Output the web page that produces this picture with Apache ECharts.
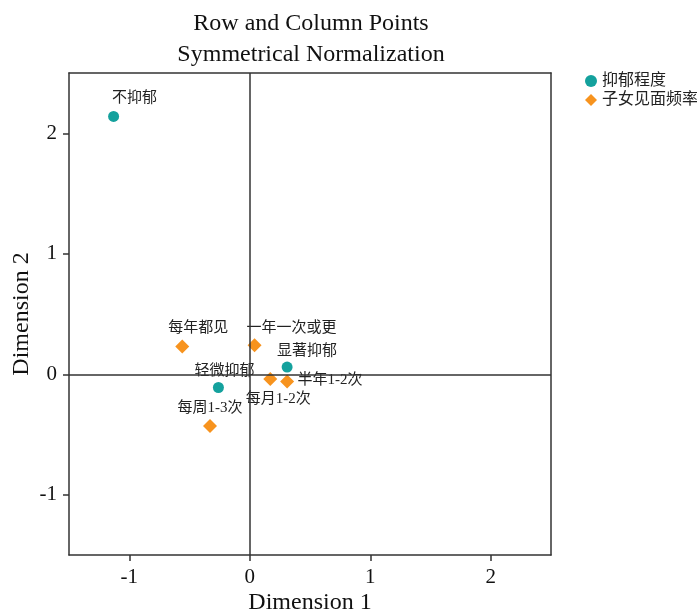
<!DOCTYPE html>
<html>
<head>
<meta charset="utf-8">
<script src="https://cdn.jsdelivr.net/npm/echarts@6/dist/echarts.min.js"></script>
<style>
html,body{margin:0;padding:0;background:#fff;}
#main{width:697px;height:613px;}
</style>
</head>
<body>
<div id="main"></div>
<script>
// 抑郁程度 (row points)
var rowNames = ['不抑郁', '轻微抑郁', '显著抑郁'];
var rowX = [-1.13, -0.26, 0.31];
var rowY = [2.14, -0.11, 0.06];
// 子女见面频率 (column points)
var colNames = ['每年都见', '一年一次或更', '每月1-2次', '半年1-2次', '每周1-3次'];
var colX = [-0.56, 0.04, 0.17, 0.31, -0.33];
var colY = [0.23, 0.24, -0.04, -0.06, -0.43];
var tickValues = [-1, 0, 1, 2];

// 标签偏移，避免文字重叠
var labelOffset = {
    '不抑郁': [21, 0],
    '轻微抑郁': [6, 2],
    '显著抑郁': [20, 2],
    '每年都见': [16, -1],
    '一年一次或更': [37, 0],
    '每月1-2次': [8, 37],
    '半年1-2次': [43, 16],
    '每周1-3次': [0, -1]
};

var serif = "'Liberation Serif', 'Times New Roman', serif";
var cjk = "'Liberation Serif', 'Noto Sans CJK SC', serif";

function makeData(names, xs, ys) {
    return names.map(function (n, i) {
        return {
            name: n,
            value: [xs[i], ys[i]],
            label: { offset: labelOffset[n] }
        };
    });
}

var myChart = echarts.init(document.getElementById('main'));
var axisCommon = {
    type: 'value',
    min: -1.5,
    max: 2.5,
    splitLine: { show: false },
    axisLine: { show: true, onZero: false, lineStyle: { color: '#333', width: 1.5 } },
    axisTick: { show: true, length: 6, customValues: tickValues, lineStyle: { color: '#333', width: 1.5 } },
    axisLabel: { customValues: tickValues, color: '#111', fontSize: 21, fontFamily: serif, margin: 12 },
    nameLocation: 'middle',
    nameMoveOverlap: false,
    nameTextStyle: { color: '#111', fontSize: 24, fontFamily: serif }
};
var option = {
    backgroundColor: '#fff',
    title: {
        text: 'Row and Column Points\nSymmetrical Normalization',
        left: 306,
        top: 3,
        textAlign: 'center',
        textStyle: { fontSize: 24, fontWeight: 'normal', color: '#111', fontFamily: serif, lineHeight: 31 }
    },
    legend: {
        orient: 'vertical',
        left: 580,
        top: 68,
        itemWidth: 12,
        itemHeight: 12,
        itemGap: 3,
        textStyle: { fontSize: 16, color: '#222', fontFamily: cjk },
        data: [{ name: '抑郁程度', icon: 'circle' }, { name: '子女见面频率', icon: 'diamond' }]
    },
    grid: { left: 69, right: 146, top: 73, bottom: 58, containLabel: false, outerBoundsMode: 'none' },
    xAxis: [
        Object.assign({}, axisCommon, { name: 'Dimension 1', nameGap: 36, position: 'bottom' }),
        { type: 'value', min: -1.5, max: 2.5, position: 'top', axisLine: { show: true, onZero: false, lineStyle: { color: '#333', width: 1.5 } },
          axisTick: { show: false }, axisLabel: { show: false }, splitLine: { show: false } }
    ],
    yAxis: [
        Object.assign({}, axisCommon, { name: 'Dimension 2', nameGap: 35, position: 'left' }),
        { type: 'value', min: -1.5, max: 2.5, position: 'right', axisLine: { show: true, onZero: false, lineStyle: { color: '#333', width: 1.5 } },
          axisTick: { show: false }, axisLabel: { show: false }, splitLine: { show: false } }
    ],
    series: [
        {
            name: '抑郁程度',
            type: 'scatter',
            symbol: 'circle',
            symbolSize: 11,
            itemStyle: { color: '#14a19d', opacity: 1 },
            label: { show: true, position: 'top', distance: 5, formatter: '{b}', fontSize: 15, color: '#222', fontFamily: cjk },
            data: makeData(rowNames, rowX, rowY),
            markLine: {
                silent: true,
                symbol: 'none',
                label: { show: false },
                lineStyle: { color: '#333', width: 1.5, type: 'solid' },
                data: [{ xAxis: 0 }, { yAxis: 0 }]
            },
            z: 3
        },
        {
            name: '子女见面频率',
            type: 'scatter',
            symbol: 'diamond',
            symbolSize: 14,
            itemStyle: { color: '#f7931e', opacity: 1 },
            label: { show: true, position: 'top', distance: 3, formatter: '{b}', fontSize: 15, color: '#222', fontFamily: cjk },
            data: makeData(colNames, colX, colY),
            z: 3
        }
    ]
};
myChart.setOption(option);
</script>
</body>
</html>
